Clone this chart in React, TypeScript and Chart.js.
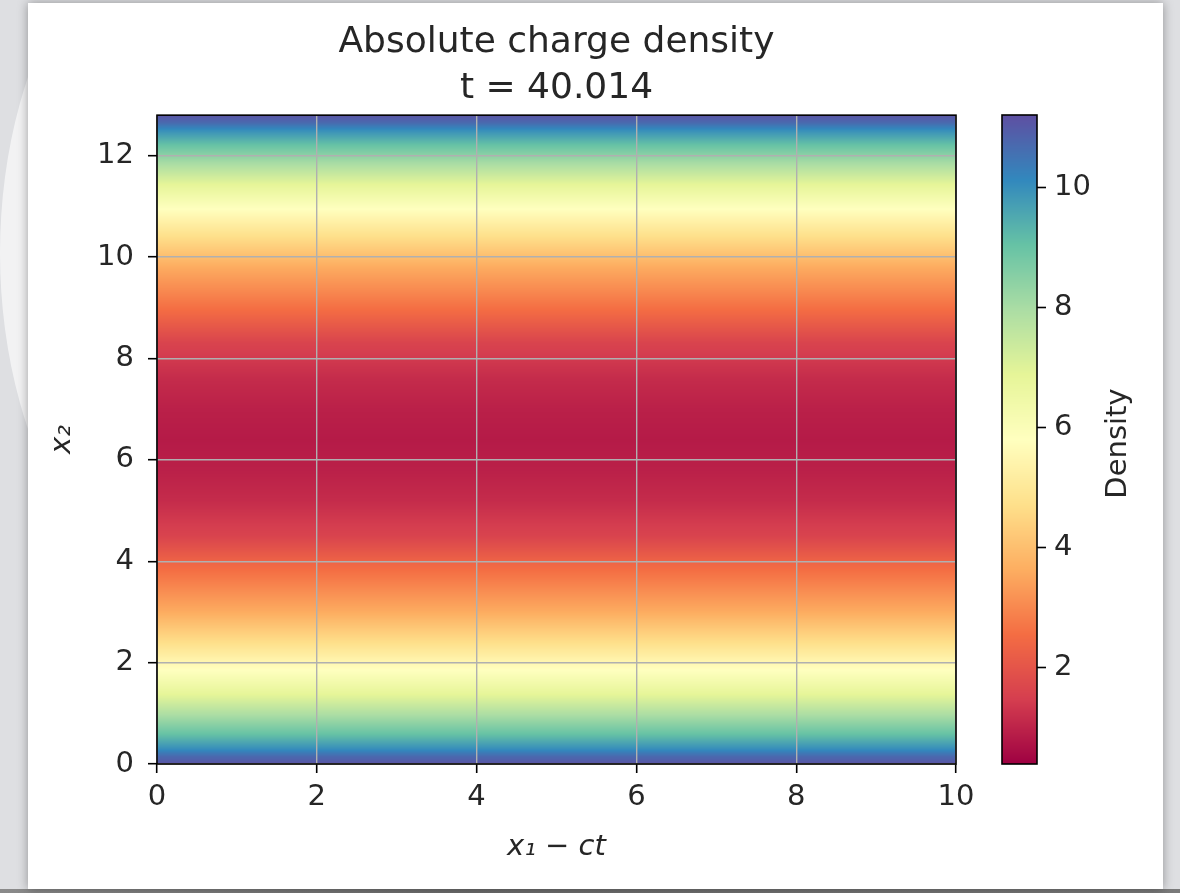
import React, { useEffect, useRef } from "react";
import { Chart, registerables } from "chart.js";

Chart.register(...registerables);

// ---------- data ----------
const titleLines = ["Absolute charge density", "t = 40.014"];
const x1Label = "x₁ − ct";
const x2Label = "x₂";
const colorbarLabel = "Density";

const x1Limits = [0, 10];
const x2Limits = [0, 12.8];
const densityLimits = [0.4, 11.2];

const x1Ticks = [0, 2, 4, 6, 8, 10];
const x2Ticks = [0, 2, 4, 6, 8, 10, 12];
const densityTicks = [2, 4, 6, 8, 10];

// density profile along x2 (uniform along x1 - ct)
const x2Samples = [
  0, 0.15, 0.3, 0.6, 0.95, 1.4, 1.9, 2.4, 3.0, 3.8, 4.5, 5.2, 5.8, 6.4,
  7.0, 7.6, 8.3, 9.0, 9.8, 10.4, 10.9, 11.4, 11.85, 12.2, 12.5, 12.65, 12.8,
];
const densityValues = [
  11.1, 10.7, 10.0, 9.0, 8.0, 6.8, 5.7, 4.7, 3.6, 2.6, 1.6, 1.15, 0.95, 0.85,
  0.95, 1.15, 1.6, 2.6, 3.6, 4.7, 5.7, 6.8, 8.0, 9.0, 10.0, 10.7, 11.1,
];

// matplotlib "Spectral" colormap control colours
const spectralStops: number[][] = [
  [158, 1, 66], [213, 62, 79], [244, 109, 67], [253, 174, 97], [254, 224, 139],
  [255, 255, 191], [230, 245, 152], [171, 221, 164], [102, 194, 165], [50, 136, 189], [94, 79, 162],
];

// ---------- helpers ----------
const FONT = "'DejaVu Sans', 'Noto Sans', sans-serif";
const TEXT = "#262626";

function spectral(v: number): string {
  let t = (v - densityLimits[0]) / (densityLimits[1] - densityLimits[0]);
  t = Math.max(0, Math.min(1, t));
  const f = t * (spectralStops.length - 1);
  const i = Math.min(Math.floor(f), spectralStops.length - 2);
  const r = f - i;
  const a = spectralStops[i];
  const b = spectralStops[i + 1];
  const c = a.map((ch, k) => Math.round(ch + (b[k] - ch) * r));
  return `rgb(${c[0]},${c[1]},${c[2]})`;
}

function densityAt(y: number): number {
  if (y <= x2Samples[0]) return densityValues[0];
  for (let i = 0; i < x2Samples.length - 1; i++) {
    if (y <= x2Samples[i + 1]) {
      const r = (y - x2Samples[i]) / (x2Samples[i + 1] - x2Samples[i]);
      return densityValues[i] + (densityValues[i + 1] - densityValues[i]) * r;
    }
  }
  return densityValues[densityValues.length - 1];
}

const heatmapPlugin = {
  id: "heatmap",
  beforeDraw(chart: any) {
    const { ctx } = chart;
    const xs = chart.scales.x;
    const ys = chart.scales.y;
    const left = xs.getPixelForValue(x1Limits[0]);
    const right = xs.getPixelForValue(x1Limits[1]);
    const top = Math.floor(ys.getPixelForValue(x2Limits[1]));
    const bottom = Math.ceil(ys.getPixelForValue(x2Limits[0]));
    ctx.save();
    for (let py = top; py < bottom; py++) {
      const v = ys.getValueForPixel(py + 0.5);
      ctx.fillStyle = spectral(densityAt(v));
      ctx.fillRect(left, py, right - left, 1);
    }
    ctx.restore();
  },
  afterDraw(chart: any) {
    const { ctx, chartArea: a } = chart;
    ctx.save();
    ctx.strokeStyle = "#000";
    ctx.lineWidth = 1.6;
    ctx.strokeRect(a.left, a.top, a.right - a.left, a.bottom - a.top);
    ctx.restore();
  },
};

const colorbarPlugin = {
  id: "colorbar",
  beforeDraw(chart: any) {
    const { ctx, chartArea: a } = chart;
    const ys = chart.scales.y;
    ctx.save();
    for (let py = Math.floor(a.top); py < Math.ceil(a.bottom); py++) {
      const v = ys.getValueForPixel(py + 0.5);
      ctx.fillStyle = spectral(v);
      ctx.fillRect(a.left, py, a.right - a.left, 1);
    }
    ctx.restore();
  },
  afterDraw(chart: any) {
    const { ctx, chartArea: a } = chart;
    ctx.save();
    ctx.strokeStyle = "#000";
    ctx.lineWidth = 1.6;
    ctx.strokeRect(a.left, a.top, a.right - a.left, a.bottom - a.top);
    // colorbar label, rotated to read bottom-to-top
    ctx.translate(a.right + 81, (a.top + a.bottom) / 2 + 4);
    ctx.rotate(-Math.PI / 2);
    ctx.fillStyle = TEXT;
    ctx.font = `29px ${FONT}`;
    ctx.textAlign = "center";
    ctx.textBaseline = "middle";
    ctx.fillText(colorbarLabel, 0, 0);
    ctx.restore();
  },
};

export default function App() {
  const mainRef = useRef<HTMLCanvasElement>(null);
  const cbRef = useRef<HTMLCanvasElement>(null);

  useEffect(() => {
    const tickFont = { family: FONT, size: 29 };
    const main = new Chart(mainRef.current as HTMLCanvasElement, {
      type: "scatter",
      data: { datasets: [{ data: [] }] },
      plugins: [heatmapPlugin],
      options: {
        animation: false,
        responsive: false,
        devicePixelRatio: 1,
        layout: { padding: { left: 30, right: 24, top: 0, bottom: 0 } },
        plugins: {
          legend: { display: false },
          tooltip: { enabled: false },
          title: {
            display: true,
            text: titleLines,
            fullSize: false,
            color: TEXT,
            font: { family: FONT, size: 36, weight: "normal", lineHeight: 1.28 },
            padding: { top: 20, bottom: 3 },
          },
        },
        scales: {
          x: {
            type: "linear",
            min: x1Limits[0],
            max: x1Limits[1],
            afterBuildTicks: (s: any) => {
              s.ticks = x1Ticks.map((v) => ({ value: v }));
            },
            afterFit: (s: any) => {
              s.height = 129;
              s.paddingLeft = 0;
              s.paddingRight = 0;
            },
            grid: {
              color: "#b0b0b0",
              lineWidth: 1.4,
              tickColor: "#000",
              tickWidth: 1.6,
              tickLength: 9,
              drawTicks: true,
            },
            border: { display: false },
            ticks: {
              color: TEXT,
              font: tickFont,
              padding: 7,
              maxRotation: 0,
              autoSkip: false,
              callback: (v: any) => String(v),
            },
            title: {
              display: true,
              text: x1Label,
              color: TEXT,
              font: { family: FONT, size: 29, style: "italic", lineHeight: 1.2 },
              padding: { top: 0, bottom: 28 },
            },
          },
          y: {
            type: "linear",
            min: x2Limits[0],
            max: x2Limits[1],
            afterBuildTicks: (s: any) => {
              s.ticks = x2Ticks.map((v) => ({ value: v }));
            },
            afterFit: (s: any) => {
              s.width = 127;
              s.paddingTop = 0;
              s.paddingBottom = 0;
            },
            grid: {
              color: "#b0b0b0",
              lineWidth: 1.4,
              tickColor: "#000",
              tickWidth: 1.6,
              tickLength: 9,
              drawTicks: true,
            },
            border: { display: false },
            ticks: {
              color: TEXT,
              font: tickFont,
              padding: 14,
              autoSkip: false,
              callback: (v: any) => String(v),
            },
            title: {
              display: true,
              text: x2Label,
              color: TEXT,
              font: { family: FONT, size: 29, style: "italic", lineHeight: 1.2 },
              padding: { top: 15, bottom: 0 },
            },
          },
        },
      } as any,
    });

    const cb = new Chart(cbRef.current as HTMLCanvasElement, {
      type: "scatter",
      data: { datasets: [{ data: [] }] },
      plugins: [colorbarPlugin],
      options: {
        animation: false,
        responsive: false,
        devicePixelRatio: 1,
        layout: { padding: { left: 22, right: 43, top: 115, bottom: 129 } },
        plugins: { legend: { display: false }, tooltip: { enabled: false } },
        scales: {
          x: { type: "linear", display: false, min: 0, max: 1 },
          y: {
            type: "linear",
            position: "right",
            min: densityLimits[0],
            max: densityLimits[1],
            afterBuildTicks: (s: any) => {
              s.ticks = densityTicks.map((v) => ({ value: v }));
            },
            afterFit: (s: any) => {
              s.width = 100;
              s.paddingTop = 0;
              s.paddingBottom = 0;
            },
            grid: {
              drawOnChartArea: false,
              tickColor: "#000",
              tickWidth: 1.6,
              tickLength: 9,
              drawTicks: true,
            },
            border: { display: false },
            ticks: {
              color: TEXT,
              font: tickFont,
              padding: 8,
              autoSkip: false,
              callback: (v: any) => String(v),
            },
          },
        },
      } as any,
    });

    return () => {
      main.destroy();
      cb.destroy();
    };
  }, []);

  return (
    <div
      style={{
        position: "absolute",
        left: 0,
        top: 0,
        width: 1180,
        height: 893,
        overflow: "hidden",
        background: "#dedfe2",
      }}
    >
      <div
        style={{
          position: "absolute",
          left: 0,
          top: 3,
          width: 28,
          height: 886,
          overflow: "hidden",
        }}
      >
        <div
          style={{
            position: "absolute",
            left: 0,
            top: -140,
            width: 520,
            height: 780,
            borderRadius: "50%",
            background: "rgba(255,255,255,0.6)",
          }}
        />
      </div>
      <div
        style={{
          position: "absolute",
          left: 0,
          top: 889,
          width: 1180,
          height: 4,
          background: "linear-gradient(to right, #8a8a8a, #6c6c6c 40%, #7a7a7a)",
        }}
      />
      <div
        style={{
          position: "absolute",
          left: 28,
          top: 3,
          width: 1135,
          height: 886,
          background: "#ffffff",
          boxShadow: "0 0 10px rgba(0,0,0,0.35)",
        }}
      />
      <canvas
        ref={mainRef}
        width={980}
        height={893}
        style={{ position: "absolute", left: 0, top: 0, width: 980, height: 893 }}
      />
      <canvas
        ref={cbRef}
        width={200}
        height={893}
        style={{ position: "absolute", left: 980, top: 0, width: 200, height: 893 }}
      />
    </div>
  );
}
